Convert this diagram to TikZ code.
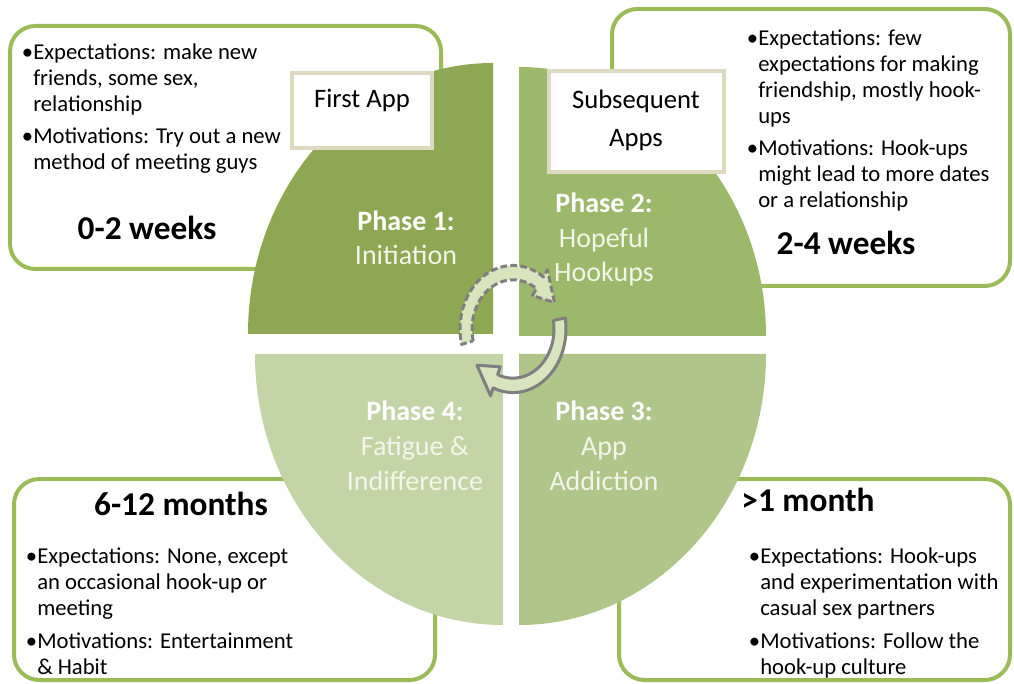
\documentclass[tikz,border=0pt]{standalone}
\usepackage{fontspec}
\setmainfont{Carlito}
\usepackage{tikz}
\definecolor{boxgreen}{HTML}{9BBB59}
\definecolor{labeltan}{HTML}{DDD9C3}
\definecolor{phaseone}{HTML}{8DA753}
\definecolor{phasetwo}{HTML}{9CB86B}
\definecolor{phasethree}{HTML}{AFC58A}
\definecolor{phasefour}{HTML}{C3D4A6}
\definecolor{cyclefill}{HTML}{D7E4BD}
\definecolor{cyclegray}{HTML}{7F7F7F}
\definecolor{phasesub}{HTML}{F2F6EA}

\begin{document}
\begin{tikzpicture}[x=0.75pt, y=-0.75pt,
    infobox/.style={draw=boxgreen, line width=3pt, fill=white, rounded corners=19pt},
    labelbox/.style={draw=labeltan, line width=3.5pt, fill=white},
    bullets/.style={anchor=base west, align=left, inner sep=0pt, font=\fontsize{17}{19.5}\selectfont},
    period/.style={anchor=base, inner sep=0pt, font=\bfseries\fontsize{25}{30}\selectfont},
    apptext/.style={anchor=base, align=center, inner sep=0pt, font=\fontsize{20}{29}\selectfont},
    phase/.style={anchor=base, align=center, inner sep=0pt, text=phasesub, font=\fontsize{21}{26}\selectfont},
    cyclearrow/.style={fill=cyclefill, draw=cyclegray, line width=2.25pt, line join=round}
]
    \useasboundingbox (0,0) rectangle (1014,684);

    % Boites d'information (derriere le disque)
    \draw[infobox] (10,26) rectangle (441,269);
    \draw[infobox] (612,9) rectangle (1010,286);
    \draw[infobox] (14,479) rectangle (435,680);
    \draw[infobox] (619,479) rectangle (1010,680);

    % Les quatre quarts du disque
    \fill[phaseone] (493,334) -- ++(-245,0) arc[start angle=180, end angle=270, x radius=245, y radius=271] -- cycle;
    \fill[phasetwo] (519,336) -- ++(0,-269) arc[start angle=270, end angle=360, x radius=247, y radius=269] -- cycle;
    \fill[phasethree] (519,354) -- ++(247,0) arc[start angle=0, end angle=90, x radius=247, y radius=271] -- cycle;
    \fill[phasefour] (503,354) -- ++(0,271) arc[start angle=90, end angle=180, x radius=248, y radius=271] -- cycle;

    % Etiquettes des applications
    \draw[labelbox] (292,73) rectangle (432,148);
    \draw[labelbox] (549,71) rectangle (724,172);
    \node[apptext] (firstapp) at (362,108) {First App};
    \node[apptext] (nextapps) at (636,147) {Subsequent\\Apps};

    % Fleches du cycle
    \begin{scope}[shift={(513,329)}, yscale=1.2]
        \filldraw[cyclearrow, dash pattern=on 5pt off 2.5pt] (166:41) arc[start angle=166, end angle=305, radius=41]
            -- (305:34) -- (332:47) -- (305:60) -- (305:53) arc[start angle=305, end angle=166, radius=53] -- cycle;
        \filldraw[cyclearrow] (-10:41) arc[start angle=-10, end angle=112, radius=41]
            -- (112:34) -- (140:47) -- (112:60) -- (112:53) arc[start angle=112, end angle=-10, radius=53] -- cycle;
    \end{scope}

    % Textes des phases (ancre sur la derniere ligne)
    \node[phase] (phase1) at (406,265) {{\bfseries\color{white}Phase 1:}\\Initiation};
    \node[phase] (phase2) at (604,282) {{\bfseries\color{white}Phase 2:}\\Hopeful\\Hookups};
    \node[phase] (phase3) at (604,490) {{\bfseries\color{white}Phase 3:}\\App\\Addiction};
    \node[phase] (phase4) at (415,490) {{\bfseries\color{white}Phase 4:}\\Fatigue \&\\Indifference};

    % Phase 1 : 0-2 semaines
    \node[bullets] (body1) at (33,170) {\llap{•}Expectations: make new\\friends, some sex,\\relationship\\[5pt]
        \llap{•}Motivations: Try out a new\\method of meeting guys};
    \node[period] (time1) at (147,240) {0-2 weeks};

    % Phase 2 : 2-4 semaines
    \node[bullets] (body2) at (758,208) {\llap{•}Expectations: few\\expectations for making\\friendship, mostly hook-\\ups\\[5pt]
        \llap{•}Motivations: Hook-ups\\might lead to more dates\\or a relationship};
    \node[period] (time2) at (846,255) {2-4 weeks};

    % Phase 3 : plus d'un mois
    \node[period] (time3) at (808,511) {>1 month};
    \node[bullets] (body3) at (760,674) {\llap{•}Expectations: Hook-ups\\and experimentation with\\casual sex partners\\[5pt]
        \llap{•}Motivations: Follow the\\hook-up culture};

    % Phase 4 : 6-12 mois
    \node[period] (time4) at (181,515) {6-12 months};
    \node[bullets] (body4) at (37,674) {\llap{•}Expectations: None, except\\an occasional hook-up or\\meeting\\[5pt]
        \llap{•}Motivations: Entertainment\\\& Habit};
\end{tikzpicture}
\end{document}
